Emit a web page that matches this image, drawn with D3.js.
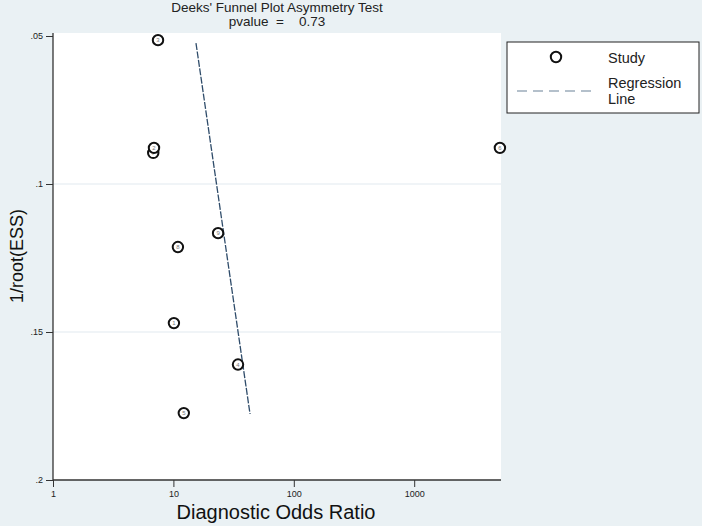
<!DOCTYPE html>
<html>
<head>
<meta charset="utf-8">
<script src="https://cdn.jsdelivr.net/npm/d3@7"></script>
<style>
  body { margin: 0; background: #eaf1f4; }
  svg { display: block; font-family: "Liberation Sans", Arial, sans-serif; }
</style>
</head>
<body>
<svg id="canvas" width="702" height="526"></svg>
<script>
'use strict';

/* study data */
var studyIds = [1, 2, 3, 4, 5, 6, 7, 8, 9];
var studyDor = [10.1, 6.9, 7.45, 34.4, 12.2, 5150, 6.8, 10.9, 23.5];
var studyEss = [0.147, 0.0878, 0.0514, 0.161, 0.1774, 0.0878, 0.0895, 0.1213, 0.1166];

/* regression line end points (DOR, 1/root(ESS)) */
var lineDor = [15.4, 43.3];
var lineEss = [0.0524, 0.1777];

var xTicks = [1, 10, 100, 1000];
var yTicks = [0.05, 0.1, 0.15, 0.2];
var yTickLabels = ['.05', '.1', '.15', '.2'];

var svg = d3.select('#canvas');

/* plot region */
var plotLeft = 53, plotRight = 501, plotTop = 36, plotBottom = 480;

var x = d3.scaleLog().domain([1, Math.pow(10, (plotRight - plotLeft) / 120.4)]).range([plotLeft, plotRight]);
var y = d3.scaleLinear().domain([0.05, 0.2]).range([plotTop, plotBottom]);

/* white plot area */
svg.append('rect')
  .attr('x', plotLeft).attr('y', 33)
  .attr('width', plotRight - plotLeft).attr('height', plotBottom - 33)
  .attr('fill', '#ffffff');

/* grid lines */
svg.append('g').selectAll('line')
  .data([0.1, 0.15])
  .enter().append('line')
    .attr('x1', plotLeft).attr('x2', plotRight)
    .attr('y1', function(d){ return y(d); })
    .attr('y2', function(d){ return y(d); })
    .attr('stroke', '#e2eaef')
    .attr('stroke-width', 1.2);

/* y axis */
var yAxis = d3.axisLeft(y)
  .tickValues(yTicks)
  .tickSize(7)
  .tickPadding(3)
  .tickFormat(function(d, i){ return yTickLabels[i]; });
var gy = svg.append('g')
  .attr('transform', 'translate(' + plotLeft + ',0)')
  .call(yAxis);
gy.select('.domain').attr('d', 'M0,33V' + plotBottom).attr('stroke', '#333').attr('stroke-width', 1.3);
gy.selectAll('.tick line').attr('stroke', '#333');
gy.selectAll('.tick text').attr('font-size', 9).attr('fill', '#222')
  .attr('font-family', '"Liberation Sans", Arial, sans-serif');

/* x axis */
var xAxis = d3.axisBottom(x)
  .tickValues(xTicks)
  .tickSize(7)
  .tickPadding(4)
  .tickFormat(d3.format('d'));
var gx = svg.append('g')
  .attr('transform', 'translate(0,' + plotBottom + ')')
  .call(xAxis);
gx.select('.domain').attr('d', 'M' + plotLeft + ',0H' + plotRight).attr('stroke', '#333').attr('stroke-width', 1.3);
gx.selectAll('.tick line').attr('stroke', '#333');
gx.selectAll('.tick text').attr('font-size', 9).attr('fill', '#222')
  .attr('font-family', '"Liberation Sans", Arial, sans-serif');

/* axis titles */
svg.append('text')
  .attr('x', 276).attr('y', 519)
  .attr('text-anchor', 'middle')
  .attr('font-size', 20)
  .attr('fill', '#111')
  .text('Diagnostic Odds Ratio');

svg.append('text')
  .attr('transform', 'translate(23,256) rotate(-90)')
  .attr('text-anchor', 'middle')
  .attr('font-size', 18)
  .attr('fill', '#111')
  .text('1/root(ESS)');

/* title */
svg.append('text')
  .attr('x', 277).attr('y', 12)
  .attr('text-anchor', 'middle')
  .attr('font-size', 13.5)
  .attr('fill', '#222')
  .text("Deeks' Funnel Plot Asymmetry Test");
svg.append('text')
  .attr('x', 277).attr('y', 26)
  .attr('text-anchor', 'middle')
  .attr('font-size', 13.5)
  .attr('fill', '#222')
  .style('white-space', 'pre')
  .text('pvalue  =    0.73');

/* regression line */
svg.append('line')
  .attr('x1', x(lineDor[0])).attr('y1', y(lineEss[0]))
  .attr('x2', x(lineDor[1])).attr('y2', y(lineEss[1]))
  .attr('stroke', '#2f4c6a')
  .attr('stroke-width', 1.3)
  .attr('stroke-dasharray', '7,1.5');

/* study points */
var pts = svg.append('g').selectAll('g')
  .data(studyIds)
  .enter().append('g')
    .attr('transform', function(d, i){
      return 'translate(' + x(studyDor[i]) + ',' + y(studyEss[i]) + ')';
    });
pts.append('circle')
  .attr('r', 5.2)
  .attr('fill', '#fff')
  .attr('stroke', '#111')
  .attr('stroke-width', 2);
pts.append('text')
  .attr('text-anchor', 'middle')
  .attr('dy', '0.35em')
  .attr('font-size', 6)
  .attr('fill', '#777')
  .text(function(d){ return d; });
/* study 2 sits on top of study 7 in the reference */
pts.filter(function(d){ return d === 2; }).raise();

/* legend */
var lg = svg.append('g');
lg.append('rect')
  .attr('x', 507).attr('y', 42)
  .attr('width', 192).attr('height', 71)
  .attr('fill', '#fff')
  .attr('stroke', '#222')
  .attr('stroke-width', 1);
lg.append('circle')
  .attr('cx', 556).attr('cy', 57)
  .attr('r', 5.2)
  .attr('fill', '#fff')
  .attr('stroke', '#111')
  .attr('stroke-width', 2);
lg.append('text')
  .attr('x', 608).attr('y', 63)
  .attr('font-size', 14.5)
  .attr('fill', '#222')
  .text('Study');
lg.append('line')
  .attr('x1', 517).attr('x2', 596)
  .attr('y1', 91).attr('y2', 91)
  .attr('stroke', '#6a8297')
  .attr('stroke-width', 1.2)
  .attr('stroke-dasharray', '10,6');
lg.append('text')
  .attr('x', 608).attr('y', 88)
  .attr('font-size', 14.5)
  .attr('fill', '#222')
  .text('Regression');
lg.append('text')
  .attr('x', 608).attr('y', 104)
  .attr('font-size', 14.5)
  .attr('fill', '#222')
  .text('Line');
</script>
</body>
</html>
